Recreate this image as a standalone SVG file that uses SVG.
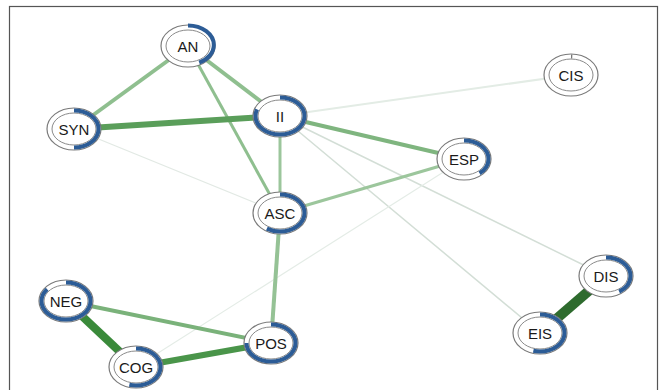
<svg xmlns="http://www.w3.org/2000/svg" width="665" height="390" viewBox="0 0 665 390">
<style>
.frame{fill:#fff;stroke:#555;stroke-width:1.2}
.edge{fill:none;stroke-linecap:butt}
.outer{fill:#fff;stroke:#7a7a7a;stroke-width:1.2}
.inner{fill:#fff;stroke:#8a8a8a;stroke-width:1}
.pie{fill:none;stroke:#2c5c96;stroke-width:4}
.lbl{font-family:"Liberation Sans",Arial,sans-serif;font-size:15px;fill:#1a1a1a;text-anchor:middle;dominant-baseline:central}
</style>
<rect class="frame" x="9.5" y="6.5" width="648" height="395"/>
<g id="connectors">
<line class="edge" x1="280" y1="116" x2="571" y2="75" stroke="#e3ece5" stroke-width="2"/>
<line class="edge" x1="280" y1="116" x2="606" y2="276" stroke="#d3ded6" stroke-width="1.5"/>
<line class="edge" x1="280" y1="116" x2="540" y2="333" stroke="#d3ded6" stroke-width="1.5"/>
<line class="edge" x1="74" y1="129" x2="280" y2="213" stroke="#e2e9e4" stroke-width="1.2"/>
<line class="edge" x1="464" y1="159" x2="136" y2="367" stroke="#e4ece6" stroke-width="1.2"/>
<line class="edge" x1="188" y1="46" x2="74" y2="129" stroke="#8fbf8f" stroke-width="4"/>
<line class="edge" x1="188" y1="46" x2="280" y2="116" stroke="#8fbf8f" stroke-width="4"/>
<line class="edge" x1="188" y1="46" x2="280" y2="213" stroke="#8fbf8f" stroke-width="3"/>
<line class="edge" x1="74" y1="129" x2="280" y2="116" stroke="#5a9e5a" stroke-width="6"/>
<line class="edge" x1="280" y1="116" x2="464" y2="159" stroke="#7fb57f" stroke-width="4"/>
<line class="edge" x1="280" y1="116" x2="280" y2="213" stroke="#9cc69c" stroke-width="3"/>
<line class="edge" x1="464" y1="159" x2="280" y2="213" stroke="#9cc69c" stroke-width="3"/>
<line class="edge" x1="280" y1="213" x2="271" y2="343" stroke="#95c295" stroke-width="4"/>
<line class="edge" x1="66" y1="301" x2="271" y2="343" stroke="#7ab27a" stroke-width="4"/>
<line class="edge" x1="66" y1="301" x2="136" y2="367" stroke="#3a8a3a" stroke-width="8"/>
<line class="edge" x1="136" y1="367" x2="271" y2="343" stroke="#4a954a" stroke-width="6"/>
<line class="edge" x1="606" y1="276" x2="540" y2="333" stroke="#2e6b2e" stroke-width="10"/>
</g>
<g id="AN"><ellipse class="outer" cx="188" cy="46" rx="27" ry="21"/><ellipse class="inner" cx="188" cy="46" rx="22" ry="16"/><path class="pie" pathLength="100" stroke-dasharray="42 100" d="M188,25.5 A24.5,18.5 0 1 1 188,64.5 A24.5,18.5 0 1 1 188,25.5"/><text class="lbl" x="188" y="46">AN</text></g>
<g id="SYN"><ellipse class="outer" cx="74" cy="129" rx="27" ry="21"/><ellipse class="inner" cx="74" cy="129" rx="22" ry="16"/><path class="pie" pathLength="100" stroke-dasharray="50 100" d="M74,110.5 A24.5,18.5 0 1 1 74,147.5 A24.5,18.5 0 1 1 74,110.5"/><text class="lbl" x="74" y="129">SYN</text></g>
<g id="II"><ellipse class="outer" cx="280" cy="116" rx="27" ry="21"/><ellipse class="inner" cx="280" cy="116" rx="22" ry="16"/><path class="pie" pathLength="100" stroke-dasharray="80 100" d="M280,97.5 A24.5,18.5 0 1 1 280,134.5 A24.5,18.5 0 1 1 280,97.5"/><text class="lbl" x="280" y="116">II</text></g>
<g id="CIS"><ellipse class="outer" cx="571" cy="75" rx="27" ry="21"/><ellipse class="inner" cx="571" cy="75" rx="22" ry="16"/><path class="pie" pathLength="100" stroke-dasharray="1 100" d="M571,56.5 A24.5,18.5 0 1 1 571,93.5 A24.5,18.5 0 1 1 571,56.5" style="stroke:#777"/><text class="lbl" x="571" y="75">CIS</text></g>
<g id="ESP"><ellipse class="outer" cx="464" cy="159" rx="27" ry="21"/><ellipse class="inner" cx="464" cy="159" rx="22" ry="16"/><path class="pie" pathLength="100" stroke-dasharray="38 100" d="M464,140.5 A24.5,18.5 0 1 1 464,177.5 A24.5,18.5 0 1 1 464,140.5"/><text class="lbl" x="464" y="159">ESP</text></g>
<g id="ASC"><ellipse class="outer" cx="280" cy="213" rx="27" ry="21"/><ellipse class="inner" cx="280" cy="213" rx="22" ry="16"/><path class="pie" pathLength="100" stroke-dasharray="60 100" d="M280,194.5 A24.5,18.5 0 1 1 280,231.5 A24.5,18.5 0 1 1 280,194.5"/><text class="lbl" x="280" y="213">ASC</text></g>
<g id="NEG"><ellipse class="outer" cx="66" cy="301" rx="27" ry="21"/><ellipse class="inner" cx="66" cy="301" rx="22" ry="16"/><path class="pie" pathLength="100" stroke-dasharray="85 100" d="M66,282.5 A24.5,18.5 0 1 1 66,319.5 A24.5,18.5 0 1 1 66,282.5"/><text class="lbl" x="66" y="301">NEG</text></g>
<g id="COG"><ellipse class="outer" cx="136" cy="367" rx="27" ry="21"/><ellipse class="inner" cx="136" cy="367" rx="22" ry="16"/><path class="pie" pathLength="100" stroke-dasharray="55 100" d="M136,348.5 A24.5,18.5 0 1 1 136,385.5 A24.5,18.5 0 1 1 136,348.5"/><text class="lbl" x="136" y="367">COG</text></g>
<g id="POS"><ellipse class="outer" cx="271" cy="343" rx="27" ry="21"/><ellipse class="inner" cx="271" cy="343" rx="22" ry="16"/><path class="pie" pathLength="100" stroke-dasharray="75 100" d="M271,324.5 A24.5,18.5 0 1 1 271,361.5 A24.5,18.5 0 1 1 271,324.5"/><text class="lbl" x="271" y="343">POS</text></g>
<g id="DIS"><ellipse class="outer" cx="606" cy="276" rx="27" ry="21"/><ellipse class="inner" cx="606" cy="276" rx="22" ry="16"/><path class="pie" pathLength="100" stroke-dasharray="40 100" d="M606,257.5 A24.5,18.5 0 1 1 606,294.5 A24.5,18.5 0 1 1 606,257.5"/><text class="lbl" x="606" y="276">DIS</text></g>
<g id="EIS"><ellipse class="outer" cx="540" cy="333" rx="27" ry="21"/><ellipse class="inner" cx="540" cy="333" rx="22" ry="16"/><path class="pie" pathLength="100" stroke-dasharray="55 100" d="M540,314.5 A24.5,18.5 0 1 1 540,351.5 A24.5,18.5 0 1 1 540,314.5"/><text class="lbl" x="540" y="333">EIS</text></g>
</svg>
